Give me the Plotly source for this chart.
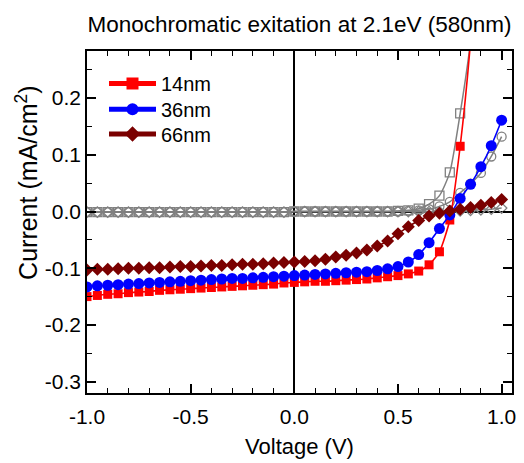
import plotly.graph_objects as go

# Bias voltage sweep (V)
voltage = [-1.00, -0.95, -0.90, -0.85, -0.80, -0.75, -0.70, -0.65, -0.60, -0.55,
           -0.50, -0.45, -0.40, -0.35, -0.30, -0.25, -0.20, -0.15, -0.10, -0.05,
           0.00, 0.05, 0.10, 0.15, 0.20, 0.25, 0.30, 0.35, 0.40, 0.45,
           0.50, 0.55, 0.60, 0.65, 0.70, 0.75, 0.80, 0.85, 0.90, 0.95, 1.00]

# Illuminated current density (mA/cm^2)
j_14nm = [-0.150, -0.148, -0.146, -0.145, -0.143, -0.142, -0.141, -0.139, -0.138, -0.137,
          -0.136, -0.135, -0.134, -0.133, -0.132, -0.131, -0.130, -0.129, -0.128, -0.126,
          -0.125, -0.124, -0.123, -0.123, -0.122, -0.121, -0.120, -0.119, -0.117, -0.115,
          -0.113, -0.110, -0.105, -0.094, -0.071, -0.015, 0.115, 0.300, 0.580, 0.860, 1.150]

j_36nm = [-0.133, -0.131, -0.130, -0.129, -0.128, -0.127, -0.126, -0.125, -0.124, -0.123,
          -0.122, -0.121, -0.120, -0.119, -0.118, -0.118, -0.117, -0.116, -0.115, -0.114,
          -0.113, -0.112, -0.111, -0.110, -0.109, -0.108, -0.107, -0.106, -0.104, -0.101,
          -0.097, -0.089, -0.076, -0.055, -0.030, -0.006, 0.023, 0.048, 0.079, 0.116, 0.161]

j_66nm = [-0.103, -0.102, -0.102, -0.101, -0.100, -0.100, -0.099, -0.099, -0.098, -0.097,
          -0.097, -0.096, -0.095, -0.095, -0.094, -0.093, -0.093, -0.092, -0.091, -0.090,
          -0.089, -0.088, -0.087, -0.084, -0.080, -0.077, -0.073, -0.068, -0.061, -0.052,
          -0.039, -0.027, -0.016, -0.008, -0.003, 0.001, 0.004, 0.007, 0.011, 0.016, 0.021]

# Dark current density (mA/cm^2)
dark_14nm = [-0.001, -0.001, -0.001, -0.001, -0.001, -0.001, -0.001, -0.001, -0.001, -0.001,
             -0.001, -0.001, -0.001, -0.001, -0.001, -0.001, -0.001, -0.001, -0.001, -0.001,
             0.000, 0.000, 0.000, 0.000, 0.000, 0.000, 0.000, 0.000, 0.000, 0.000,
             0.001, 0.002, 0.005, 0.013, 0.028, 0.069, 0.173, 0.300, 0.500, 0.800, 1.200]

dark_36nm = [-0.001, -0.001, -0.001, -0.001, -0.001, -0.001, -0.001, -0.001, -0.001, -0.001,
             -0.001, -0.001, -0.001, -0.001, -0.001, -0.001, -0.001, -0.001, -0.001, -0.001,
             0.000, 0.000, 0.000, 0.000, 0.000, 0.000, 0.000, 0.000, 0.000, 0.000,
             0.000, 0.001, 0.002, 0.004, 0.009, 0.017, 0.033, 0.049, 0.068, 0.097, 0.132]

dark_66nm = [-0.001, -0.001, -0.001, -0.001, -0.001, -0.001, -0.001, -0.001, -0.001, -0.001,
             -0.001, -0.001, -0.001, -0.001, -0.001, -0.001, -0.001, -0.001, -0.001, -0.001,
             0.000, 0.000, 0.000, 0.000, 0.000, 0.000, 0.000, 0.000, 0.000, 0.000,
             0.000, 0.000, 0.000, 0.000, 0.000, 0.000, 0.001, 0.002, 0.003, 0.004, 0.006]

GRAY = "#808080"
FONT = "Liberation Sans, Arial, sans-serif"

fig = go.Figure()

# Dark curves (open gray symbols, no legend entry)
for ys, sym, sz in [(dark_66nm, "diamond-open", 8), (dark_36nm, "circle-open", 9),
                    (dark_14nm, "square-open", 9)]:
    fig.add_trace(go.Scatter(
        x=voltage, y=ys, mode="lines+markers", showlegend=False,
        line=dict(color=GRAY, width=1.5, shape="spline", smoothing=0.6),
        marker=dict(symbol=sym, size=sz, color=GRAY, line=dict(color=GRAY, width=1.3)),
    ))

# Illuminated curves, each with its own legend box so the rows sit tightly
series = [
    ("14nm", j_14nm, "#FF0000", "square", 9, "legend"),
    ("36nm", j_36nm, "#0000FF", "circle", 11, "legend2"),
    ("66nm", j_66nm, "#7A0000", "diamond", 10, "legend3"),
]
for name, ys, col, sym, sz, lg in series:
    fig.add_trace(go.Scatter(
        x=voltage, y=ys, mode="lines+markers", name=name, legend=lg,
        line=dict(color=col, width=1.6, shape="spline", smoothing=0.6),
        marker=dict(symbol=sym, size=sz, color=col, line=dict(width=0)),
    ))

axis_common = dict(
    showline=True, linecolor="black", linewidth=1.6, mirror="ticks",
    ticks="inside", ticklen=9, tickwidth=1.5, tickcolor="black",
    showgrid=False, zeroline=True, zerolinecolor="black", zerolinewidth=1.5,
    tickfont=dict(family=FONT, size=21, color="black"),
)

fig.update_xaxes(
    **axis_common,
    range=[-1.0, 1.05], tickvals=[-1.0, -0.5, 0.0, 0.5, 1.0],
    ticktext=["-1.0", "-0.5", "0.0", "0.5", "1.0"],
    ticklabelstandoff=4,
    minor=dict(ticks="inside", ticklen=5, tickwidth=1.3, tickcolor="black", dtick=0.1, tick0=0),
    title=dict(text="Voltage (V)", font=dict(family=FONT, size=22, color="black"), standoff=12),
)
fig.update_yaxes(
    **axis_common,
    range=[-0.320, 0.283], tickvals=[-0.3, -0.2, -0.1, 0.0, 0.1, 0.2],
    ticktext=["-0.3", "-0.2", "-0.1", "0.0", "0.1", "0.2"],
    minor=dict(ticks="inside", ticklen=5, tickwidth=1.3, tickcolor="black", dtick=0.05, tick0=0),
)

legend_style = dict(x=0.040, xanchor="left", yanchor="top", bgcolor="rgba(0,0,0,0)",
                    font=dict(family=FONT, size=20, color="black"), itemsizing="constant",
                    itemwidth=47)

fig.update_layout(
    width=524, height=463,
    margin=dict(l=87, r=8, t=51, b=67),
    paper_bgcolor="white", plot_bgcolor="white",
    title=dict(text="Monochromatic exitation at 2.1eV (580nm)",
               font=dict(family=FONT, size=22.5, color="black"),
               x=0.5, xref="paper", xanchor="center", y=0.948, yanchor="middle"),
    legend=dict(y=0.962, **legend_style),
    legend2=dict(y=0.887, **legend_style),
    legend3=dict(y=0.8145, **legend_style),
    showlegend=True,
    annotations=[dict(
        text="Current (mA/cm<sup>2</sup>)", textangle=-90,
        xref="paper", yref="paper", x=-0.143, y=0.615,
        xanchor="center", yanchor="middle", showarrow=False,
        font=dict(family=FONT, size=25, color="black"),
    )],
)

fig.write_html("out.html")
